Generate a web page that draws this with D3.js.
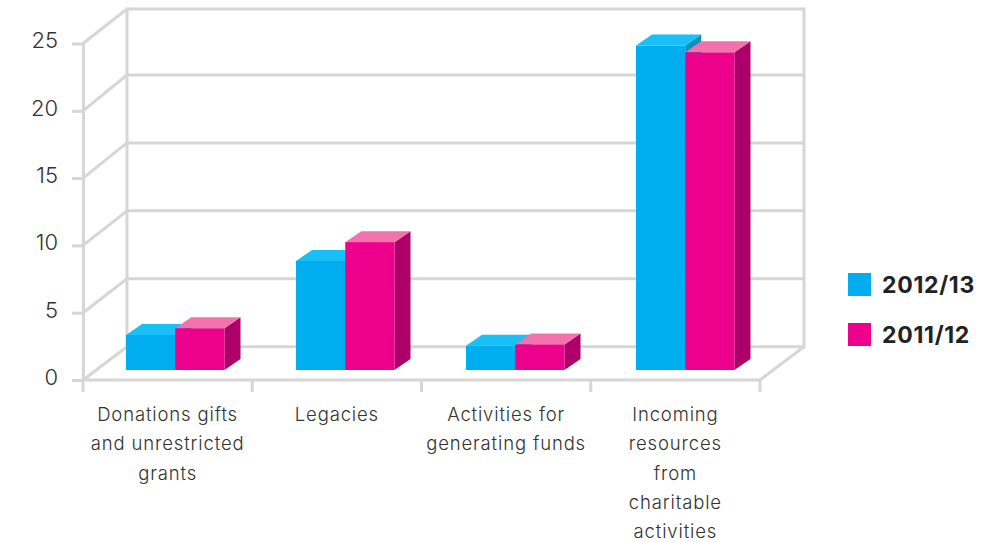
<!DOCTYPE html>
<html>
<head>
<meta charset="utf-8">
<script src="https://cdn.jsdelivr.net/npm/d3@7"></script>
<style>
    html, body { margin: 0; padding: 0; background: #fff; }
    text { font-family: Inter, "Open Sans", sans-serif; }
</style>
</head>
<body>
<div id="wrapper"></div>
<script>
const categories = ["Donations", "Legacies", "Activities", "Incoming"];
const categoryLines = [
    ["Donations gifts", "and unrestricted", "grants"],
    ["Legacies"],
    ["Activities for", "generating funds"],
    ["Incoming", "resources", "from", "charitable", "activities"]
];
const seriesNames = ["2012/13", "2011/12"];
const values2013 = [2.6, 8.1, 1.8, 24.1];
const values2012 = [3.1, 9.5, 1.9, 23.6];
const yTicks = [0, 5, 10, 15, 20, 25];

const colors = {
    "2012/13": { front: "#00aeef", top: "#19c0f6", side: "#0a8fc0" },
    "2011/12": { front: "#ec008c", top: "#f272ab", side: "#ad0068" }
};

let dimensions = { width: 1008, height: 542, left: 83, right: 760, top: 43.5, bottom: 380 };
// how far the back wall sits from the front plane
const depthX = 44;
// bars stand a little behind the front plane
const barLift = 10;
const barDepth = { x: 16, y: 11 };

let xScale = d3.scaleBand()
    .domain(categories)
    .range([dimensions.left, dimensions.right]);

// bar groups are spaced a bit wider than the axis bands
let groupScale = d3.scaleBand()
    .domain(categories)
    .range([126, 806]);

let barScale = d3.scaleBand()
    .domain(seriesNames)
    .range([0, 98.5]);

let yScale = d3.scaleLinear()
    .domain([0, 25])
    .range([dimensions.bottom, dimensions.top]);

// back wall is not quite evenly spaced in the original
let backScale = d3.scaleLinear()
    .domain([0, 20, 25])
    .range([346.7, 75, 9]);

const svg = d3.select("#wrapper")
    .append("svg")
    .attr("width", dimensions.width)
    .attr("height", dimensions.height)
    .style("display", "block");

const grid = svg.append("g")
    .attr("stroke", "#d6d6d6")
    .attr("stroke-width", 3)
    .attr("fill", "none");

// back wall lines
grid.selectAll(".back")
    .data(yTicks)
    .enter()
    .append("line")
    .attr("x1", dimensions.left + depthX)
    .attr("x2", dimensions.right + depthX)
    .attr("y1", d => backScale(d))
    .attr("y2", d => backScale(d));

// side wall diagonals
grid.selectAll(".diag")
    .data(yTicks)
    .enter()
    .append("line")
    .attr("x1", dimensions.left)
    .attr("x2", dimensions.left + depthX)
    .attr("y1", d => yScale(d))
    .attr("y2", d => backScale(d));

// verticals: back left and back right
grid.selectAll(".vert")
    .data([dimensions.left + depthX, dimensions.right + depthX])
    .enter()
    .append("line")
    .attr("x1", d => d)
    .attr("x2", d => d)
    .attr("y1", backScale(25) - 1.5)
    .attr("y2", backScale(0) + 1.5);

// floor edge on the right
grid.append("line")
    .attr("x1", dimensions.right)
    .attr("x2", dimensions.right + depthX)
    .attr("y1", yScale(0))
    .attr("y2", backScale(0));

// left axis
const yAxis = svg.append("g")
    .attr("transform", "translate(" + dimensions.left + ",0)")
    .call(d3.axisLeft(yScale).tickValues(yTicks).tickSize(11).tickPadding(14).tickSizeOuter(0));

// bottom axis, ticks sit on the band edges
const xEdges = categories.map(d => xScale(d)).concat(dimensions.right);
const xAxis = svg.append("g")
    .attr("transform", "translate(0," + dimensions.bottom + ")");

xAxis.append("line")
    .attr("x1", dimensions.left)
    .attr("x2", dimensions.right)
    .attr("stroke", "#d6d6d6")
    .attr("stroke-width", 3);

xAxis.selectAll(".tick-x")
    .data(xEdges)
    .enter()
    .append("line")
    .attr("x1", d => d)
    .attr("x2", d => d)
    .attr("y1", 0)
    .attr("y2", 12)
    .attr("stroke", "#d6d6d6")
    .attr("stroke-width", 3);

yAxis.selectAll("line, path")
    .attr("stroke", "#d6d6d6")
    .attr("stroke-width", 3);

yAxis.selectAll("text")
    .attr("font-size", 22)
    .attr("font-weight", 300)
    .attr("fill", "#333")
    .attr("dy", "0.2em")
    .style("font-family", "Inter, sans-serif");

// bars
const rows = [];
categories.forEach(function (c, i) {
    rows.push({ cat: c, series: seriesNames[0], value: values2013[i] });
    rows.push({ cat: c, series: seriesNames[1], value: values2012[i] });
});

function barX(d) {
    return groupScale(d.cat) + barScale(d.series);
}

const bars = svg.selectAll(".bar")
    .data(rows)
    .enter()
    .append("g")
    .attr("class", "bar");

bars.append("polygon")
    .attr("fill", d => colors[d.series].side)
    .attr("points", function (d) {
        const x = barX(d) + barScale.bandwidth();
        const y0 = yScale(0) - barLift;
        const y1 = yScale(d.value) - barLift;
        return [[x, y1], [x + barDepth.x, y1 - barDepth.y], [x + barDepth.x, y0 - barDepth.y], [x, y0]].join(" ");
    });

bars.append("polygon")
    .attr("fill", d => colors[d.series].top)
    .attr("points", function (d) {
        const x = barX(d);
        const w = barScale.bandwidth();
        const y1 = yScale(d.value) - barLift;
        return [[x, y1], [x + barDepth.x, y1 - barDepth.y], [x + w + barDepth.x, y1 - barDepth.y], [x + w, y1]].join(" ");
    });

bars.append("rect")
    .attr("fill", d => colors[d.series].front)
    .attr("x", barX)
    .attr("width", barScale.bandwidth())
    .attr("y", d => yScale(d.value) - barLift)
    .attr("height", d => yScale(0) - yScale(d.value));

// category labels
const labels = svg.selectAll(".cat-label")
    .data(categories)
    .enter()
    .append("text")
    .attr("class", "cat-label")
    .attr("text-anchor", "middle")
    .attr("font-size", 18.5)
    .attr("font-weight", 300)
    .attr("letter-spacing", 0.85)
    .attr("fill", "#333");

labels.selectAll("tspan")
    .data((d, i) => categoryLines[i].map(line => ({ line: line, cat: d })))
    .enter()
    .append("tspan")
    .attr("x", d => xScale(d.cat) + xScale.bandwidth() / 2)
    .attr("y", (d, i) => 421 + i * 29.3)
    .text(d => d.line);

// legend
let legendScale = d3.scalePoint()
    .domain(seriesNames)
    .range([273, 323]);

const legend = svg.selectAll(".legend")
    .data(seriesNames)
    .enter()
    .append("g")
    .attr("class", "legend")
    .attr("transform", d => "translate(848," + legendScale(d) + ")");

legend.append("rect")
    .attr("width", 23)
    .attr("height", 23)
    .attr("fill", d => colors[d].front);

legend.append("text")
    .attr("x", 34)
    .attr("y", 20)
    .attr("font-size", 23)
    .attr("font-weight", 700)
    .attr("letter-spacing", 0.7)
    .attr("fill", "#222")
    .text(d => d);
</script>
</body>
</html>
